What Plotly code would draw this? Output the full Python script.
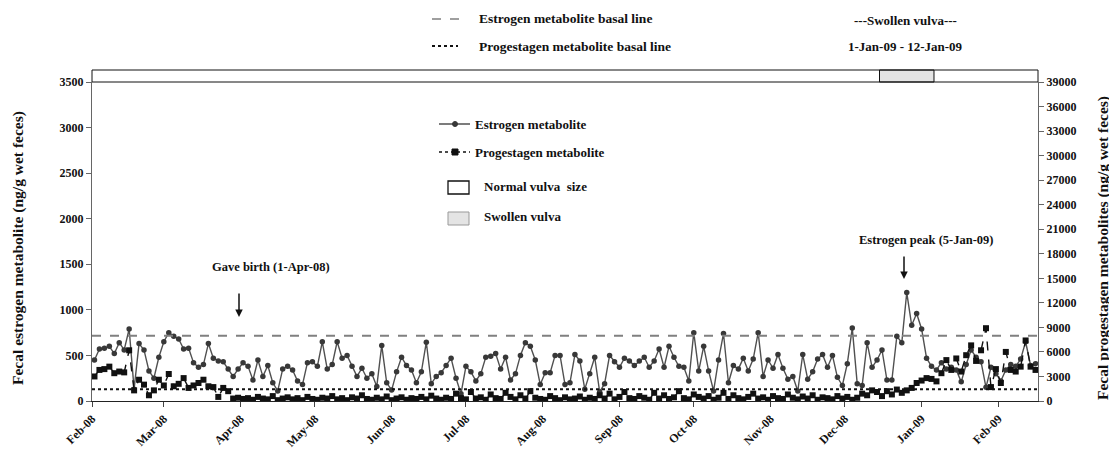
import pandas as pd
import plotly.graph_objects as go

# ---------------- data ----------------
sample_dates = pd.date_range("2008-02-02", periods=191, freq="2D")

estrogen = [
    450, 570, 580, 600, 520, 640, 560, 790, 130, 630,
    560, 330, 250, 480, 650, 750, 710, 680, 570, 580,
    420, 370, 400, 630, 470, 440, 430, 350, 270, 350,
    420, 380, 230, 450, 270, 390, 200, 110, 350, 380,
    340, 220, 180, 420, 430, 380, 650, 350, 400, 650,
    470, 500, 380, 270, 360, 250, 300, 160, 610, 200,
    120, 320, 480, 390, 340, 200, 320, 645, 190, 270,
    310, 390, 470, 250, 80, 380, 320, 220, 300, 480,
    490, 520, 350, 480, 230, 300, 500, 640, 600, 450,
    180, 310, 310, 500, 500, 180, 200, 510, 440, 130,
    300, 480, 100, 190, 500, 430, 370, 470, 440, 390,
    440, 480, 370, 440, 570, 370, 600, 480, 380, 370,
    220, 750, 330, 600, 330, 110, 450, 740, 200, 390,
    350, 470, 330, 460, 750, 270, 450, 360, 510, 360,
    240, 270, 110, 510, 240, 320, 460, 510, 370, 500,
    260, 170, 410, 800, 190, 170, 640, 370, 450, 560,
    230, 230, 710, 640, 1190, 830, 960, 790, 470, 380,
    340, 420, 350, 370, 340, 210, 400, 560, 480, 430,
    150, 370, 300, 220, 340, 400, 380, 460, 650, 390, 410,
]

progestagen = [
    3000, 3800, 3900, 4200, 3400, 3600, 3500, 6200, 1300, 2600,
    2000, 700, 1300, 2600, 1900, 3300, 1800, 2100, 2800, 1600,
    1900, 2200, 2600, 1800, 1700, 500, 1600, 1200, 300, 400,
    250, 350, 150, 500, 300, 200, 600, 100, 300, 450,
    200, 350, 100, 500, 250, 150, 400, 300, 600, 200,
    350, 100, 450, 300, 700, 250, 150, 400, 200, 550,
    100, 300, 450, 150, 350, 250, 500, 200, 650, 300,
    150, 400, 250, 900, 350, 200, 1100, 300, 450, 150,
    800, 350, 250, 1000, 500, 200, 700, 300, 1200, 400,
    250, 150, 600, 350, 100, 450, 200, 300, 550, 150,
    400, 250, 700, 300, 900, 200, 500, 1100, 350, 250,
    600, 400, 150, 1000, 300, 700, 250, 450, 1200, 350,
    200, 800, 500, 300, 600, 150, 400, 1000, 250, 700,
    350, 200, 500, 900, 300, 450, 150, 600, 350, 250,
    800, 400, 200, 550, 300, 700, 150, 450, 350, 200,
    600, 300, 500, 150, 400, 900, 700, 1300, 1100, 600,
    1200, 800, 1400, 1000, 1300, 1600, 2200, 2500, 2800, 2700,
    2400, 3400, 5000, 3800, 5200, 3600, 5600, 6800, 4900, 6200,
    8900, 1700, 3900, 2200, 6000, 3800, 3600, 4200, 7400, 4200, 3800,
]

x_start, x_end = "2008-02-01", "2009-02-17"
estrogen_basal = 715
progestagen_basal = 1450
swollen_box = ("2008-12-15", "2009-01-06")

FONT = "Liberation Serif"
INK = "#111111"

fig = go.Figure()
fig.add_trace(go.Scatter(
    x=sample_dates, y=estrogen, mode="lines+markers", yaxis="y",
    line=dict(color="#505050", width=1.4),
    marker=dict(symbol="circle", size=5.5, color="#383838"),
))
fig.add_trace(go.Scatter(
    x=[x_start, x_end], y=[estrogen_basal, estrogen_basal], mode="lines", yaxis="y",
    line=dict(color="#808080", width=2, dash="dash"),
))
fig.add_trace(go.Scatter(
    x=sample_dates, y=progestagen, mode="lines+markers", yaxis="y2",
    line=dict(color=INK, width=1.4, dash="dash"),
    marker=dict(symbol="square", size=6, color=INK),
))
fig.add_trace(go.Scatter(
    x=[x_start, x_end], y=[progestagen_basal, progestagen_basal], mode="lines", yaxis="y2",
    line=dict(color=INK, width=2, dash="dot"),
))

tickfont = dict(family=FONT, size=12, color=INK, weight="bold")

# page body adds an 8px offset, so the figure is 8px smaller on each axis
fig.update_layout(
    width=1109, height=455, autosize=False,
    margin=dict(l=84, r=79, t=74, b=62, autoexpand=False),
    paper_bgcolor="white", plot_bgcolor="white",
    showlegend=False,
    xaxis=dict(
        type="date", range=[x_start, x_end], tickformat="%b-%y",
        dtick="M1", tick0="2008-02-01", tickangle=-45, automargin=False,
        ticks="outside", ticklen=5, tickcolor="#444",
        showline=True, linecolor="#222", linewidth=1.2,
        showgrid=False, zeroline=False, tickfont=tickfont,
    ),
    yaxis=dict(
        range=[0, 3500], dtick=500, ticks="outside", ticklen=5, tickcolor="#666",
        showline=True, linecolor="#666", linewidth=1.2, automargin=False,
        showgrid=False, zeroline=False, tickfont=tickfont, tickformat="d",
    ),
    yaxis2=dict(
        range=[0, 39000], dtick=3000, overlaying="y", side="right",
        ticks="outside", ticklen=5, tickcolor="#666", automargin=False,
        showline=True, linecolor="#666", linewidth=1.2, tickformat="d",
        showgrid=False, zeroline=False, tickfont=tickfont,
    ),
)

# plot area on screen: x 92..1038 px, y 82..401 px
def px(xp):
    return (xp - 92) / 946.0

def py(yp):
    return (401 - yp) / 319.0

shapes = []
shapes.append(dict(type="rect", xref="x", yref="paper",
                   x0=swollen_box[0], x1=swollen_box[1], y0=py(82), y1=py(70),
                   fillcolor="#e4e4e4", line=dict(color=INK, width=1), layer="below"))
shapes.append(dict(type="rect", xref="paper", yref="paper", x0=0, x1=1,
                   y0=py(82), y1=py(70), line=dict(color=INK, width=1)))

shapes.append(dict(type="line", xref="paper", yref="paper", x0=px(432), x1=px(460),
                   y0=py(19), y1=py(19), line=dict(color="#808080", width=1.5, dash="dash")))
shapes.append(dict(type="line", xref="paper", yref="paper", x0=px(432), x1=px(458),
                   y0=py(46), y1=py(46), line=dict(color=INK, width=2, dash="dot")))

shapes.append(dict(type="line", xref="paper", yref="paper", x0=px(439), x1=px(470),
                   y0=py(124), y1=py(124), line=dict(color="#505050", width=1.5)))
shapes.append(dict(type="circle", xref="paper", yref="paper",
                   xsizemode="pixel", ysizemode="pixel",
                   xanchor=px(455), yanchor=py(124), x0=-2.5, x1=2.5, y0=-2.5, y1=2.5,
                   fillcolor="#383838", line=dict(color="#383838", width=1)))
shapes.append(dict(type="line", xref="paper", yref="paper", x0=px(439), x1=px(470),
                   y0=py(152), y1=py(152), line=dict(color=INK, width=1.5, dash="dot")))
shapes.append(dict(type="rect", xref="paper", yref="paper",
                   xsizemode="pixel", ysizemode="pixel",
                   xanchor=px(455), yanchor=py(152), x0=-3, x1=3, y0=-3, y1=3,
                   fillcolor=INK, line=dict(color=INK, width=1)))
shapes.append(dict(type="rect", xref="paper", yref="paper", x0=px(448), x1=px(469),
                   y0=py(194), y1=py(181), fillcolor="white", line=dict(color=INK, width=1.3)))
shapes.append(dict(type="rect", xref="paper", yref="paper", x0=px(448), x1=px(469),
                   y0=py(225), y1=py(212), fillcolor="#e4e4e4", line=dict(color="#999", width=1)))
fig.update_layout(shapes=shapes)

ann = []
def text(xp, yp, t, anchor="left", size=13, angle=0):
    ann.append(dict(x=px(xp), y=py(yp), xref="paper", yref="paper", text=t,
                    showarrow=False, xanchor=anchor, yanchor="middle", textangle=angle,
                    font=dict(family=FONT, size=size, color=INK, weight="bold")))

text(477, 19, "Estrogen metabolite basal line", size=13.5)
text(477, 46, "Progestagen metabolite basal line", size=13.5)
text(905, 20, "---Swollen vulva---", anchor="center")
text(905, 46, "1-Jan-09 - 12-Jan-09", anchor="center")
text(473, 124, "Estrogen metabolite")
text(473, 152, "Progestagen metabolite")
text(482, 186, "Normal vulva  size")
text(482, 216, "Swollen vulva")
text(210, 267, "Gave birth (1-Apr-08)", size=12.5)
text(857, 240, "Estrogen peak (5-Jan-09)", size=12.5)
text(18, 248, "Fecal estrogen metabolite (ng/g wet feces)", anchor="center", size=15.5, angle=-90)
text(1103, 248, "Fecal progestagen metabolites (ng/g wet feces)", anchor="center", size=15.5, angle=-90)

for xp, y_tail, y_head in [(239, 292, 317), (904, 255, 279)]:
    ann.append(dict(x=px(xp), y=py(y_head), xref="paper", yref="paper",
                    ax=0, ay=-(y_head - y_tail), text="", showarrow=True,
                    arrowhead=2, arrowsize=1, arrowwidth=1.5, arrowcolor=INK))
fig.update_layout(annotations=ann)

fig.write_html("out.html")
